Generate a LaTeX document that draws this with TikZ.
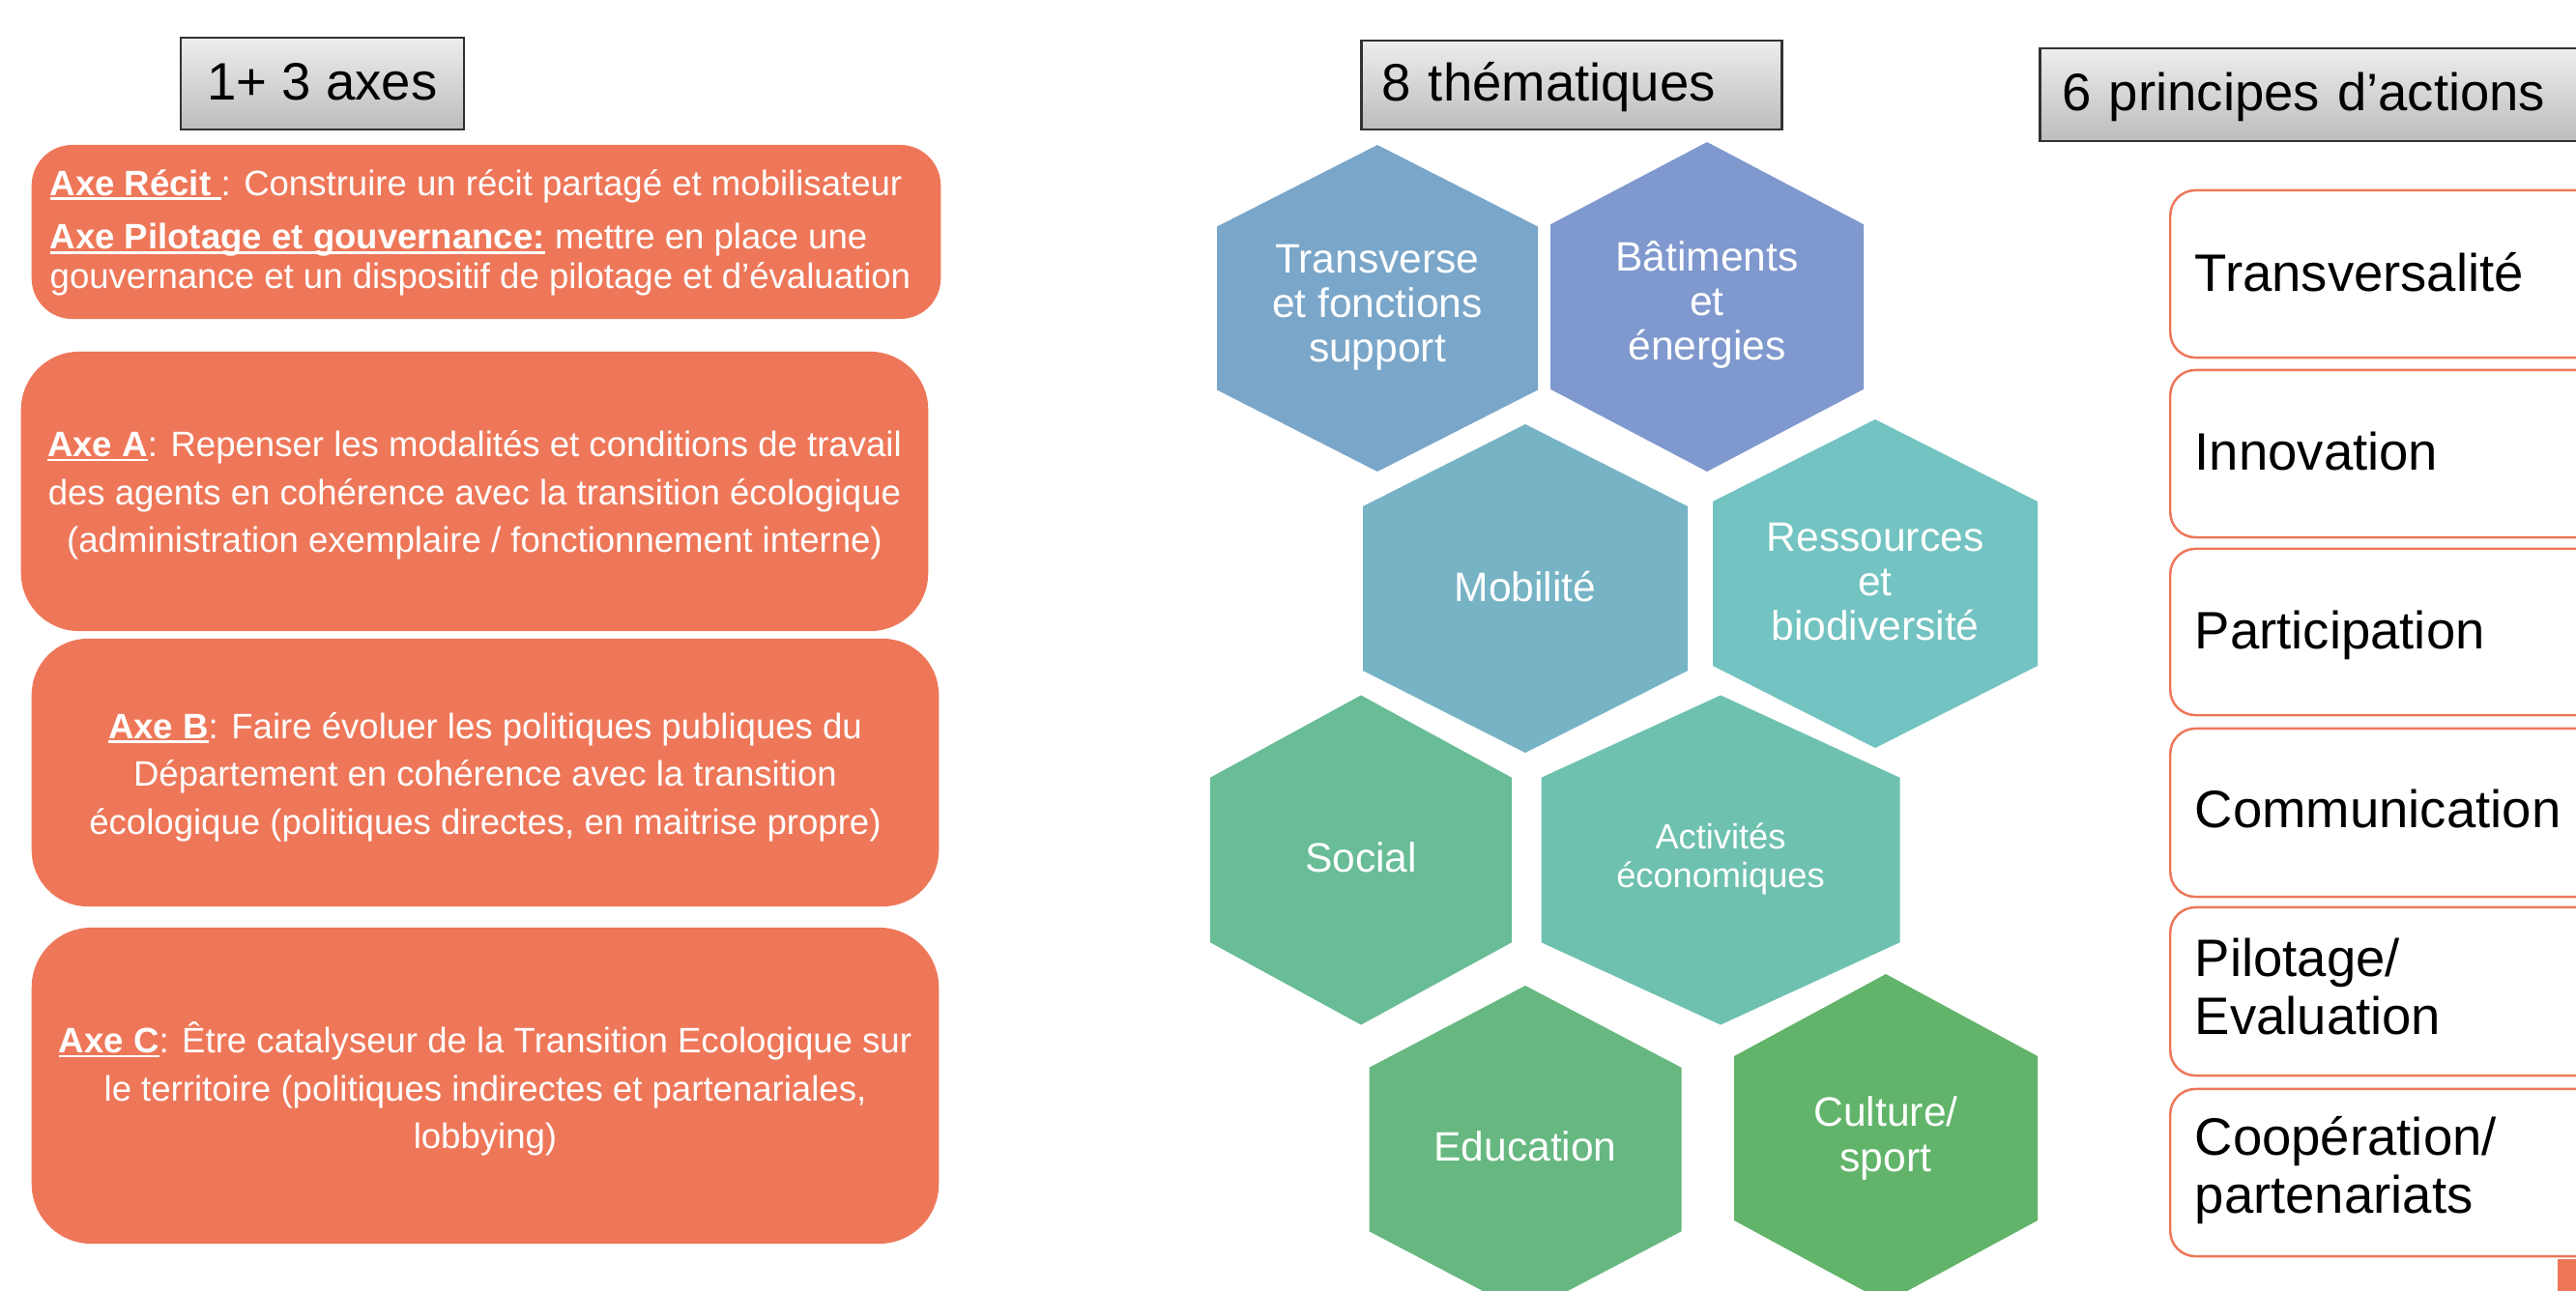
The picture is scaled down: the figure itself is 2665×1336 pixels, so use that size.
\documentclass[tikz,border=0pt]{standalone}
\usepackage{fontspec}
\setmainfont{Liberation Sans}
\definecolor{orng}{RGB}{238,119,89}
\definecolor{hexA}{RGB}{122,166,201}
\definecolor{hexB}{RGB}{127,152,206}
\definecolor{hexC}{RGB}{118,179,197}
\definecolor{hexD}{RGB}{114,195,193}
\definecolor{hexE}{RGB}{104,188,150}
\definecolor{hexF}{RGB}{110,193,175}
\definecolor{hexG}{RGB}{102,184,128}
\definecolor{hexH}{RGB}{97,180,106}
\definecolor{titleline}{RGB}{50,50,50}
\newcommand{\myhex}[5]{%
  \fill[#5] (#1,{#2-#4}) -- ({#1+#3},{#2-#4/2}) -- ({#1+#3},{#2+#4/2}) -- (#1,{#2+#4}) -- ({#1-#3},{#2+#4/2}) -- ({#1-#3},{#2-#4/2}) -- cycle;}
\newsavebox{\axbox}
\newcommand{\axehead}[1]{\sbox{\axbox}{\textbf{#1}}\rlap{\rule[-0.13em]{\wd\axbox}{0.07em}}\usebox{\axbox}}
\tikzset{
  axebox/.style={fill=orng, draw=none, rounded corners=#1, text=white,
    font=\fontsize{10.4}{14.1}\selectfont, align=center, inner sep=0pt},
  titlebox/.style={draw=titleline, line width=0.8pt, top color=black!7, bottom color=black!26,
    font=\fontsize{15.5}{17}\selectfont, text height=0.94em, text depth=0pt, inner ysep=0pt},
  princbox/.style={draw=orng, line width=0.7pt, fill=white, rounded corners=0.26cm,
    anchor=west, minimum width=4.6cm, inner sep=0pt},
  princtext/.style={anchor=base west, align=left, inner sep=0pt, font=\fontsize{15.5}{16.8}\selectfont},
  hextext/.style={text=white, align=center, font=\fontsize{12.1}{13.1}\selectfont, inner sep=0pt},
  hexsmall/.style={text=white, align=center, font=\fontsize{10.3}{11.4}\selectfont, inner sep=0pt}
}
\begin{document}
\begin{tikzpicture}[x=0.01cm,y=-0.01cm]
\useasboundingbox (0,0) rectangle (2665,1336);
\clip (0,0) rectangle (2665,1336);

% --- titles
\node[titlebox, minimum width=2.93cm, minimum height=0.95cm] (t1) at (333.5,86.5) {1+ 3 axes};
\node[titlebox, anchor=west, minimum width=4.35cm, text width=3.93cm, inner xsep=0.21cm, minimum height=0.92cm, align=left] (t2) at (1407,88) {8 thématiques};
\node[titlebox, anchor=west, minimum width=5.9cm, text width=5.44cm, inner xsep=0.23cm, minimum height=0.96cm, align=left] (t3) at (2109,98) {6 principes d’actions};

% --- left boxes
\node[axebox=0.42cm, minimum width=9.40cm, minimum height=1.80cm] (recit) at (503,240) {};
\node[text=white, anchor=base west, align=left, inner sep=0pt, font=\fontsize{10.4}{11.4}\selectfont] (recittext) at (51,298)
  {\axehead{Axe Récit\ }: Construire un récit partagé et mobilisateur\\[4.5pt]
   \axehead{Axe Pilotage et gouvernance:} mettre en place une\\
   gouvernance et un dispositif de pilotage et d’évaluation};
\node[axebox=0.6cm, minimum width=9.38cm, minimum height=2.89cm] (axeA) at (491,508.5) {};
\node[text=white, align=center, inner sep=0pt, font=\fontsize{10.4}{14.1}\selectfont] (axeAtext) at (491,512.5)
  {\axehead{Axe A}: Repenser les modalités et conditions de travail\\
   des agents en cohérence avec la transition écologique\\
   (administration exemplaire / fonctionnement interne)};
\node[axebox=0.58cm, minimum width=9.38cm, minimum height=2.77cm] (axeB) at (502,799.5) {};
\node[text=white, align=center, inner sep=0pt, font=\fontsize{10.4}{14.1}\selectfont] (axeBtext) at (502,804)
  {\axehead{Axe B}: Faire évoluer les politiques publiques du\\
   Département en cohérence avec la transition\\
   écologique (politiques directes, en maitrise propre)};
\node[axebox=0.62cm, minimum width=9.38cm, minimum height=3.27cm] (axeC) at (502,1123.5) {};
\node[text=white, align=center, inner sep=0pt, font=\fontsize{10.4}{14.1}\selectfont] (axeCtext) at (502,1127)
  {\axehead{Axe C}: Être catalyseur de la Transition Ecologique sur\\
   le territoire (politiques indirectes et partenariales,\\
   lobbying)};

% --- hexagons
\myhex{1425}{319}{166}{169}{hexA}
\myhex{1766}{317.5}{162}{170.5}{hexB}
\myhex{1578}{609}{168}{170}{hexC}
\myhex{1940}{604}{168}{170}{hexD}
\myhex{1408}{890}{156}{170.5}{hexE}
\myhex{1780}{890}{185.5}{170.5}{hexF}
\myhex{1578}{1189.5}{161.5}{169.5}{hexG}
\myhex{1951}{1178}{157}{170}{hexH}
\node[hextext] (h1) at (1425,318) {Transverse\\et fonctions\\support};
\node[hextext] (h2) at (1766,315) {Bâtiments\\et\\énergies};
\node[hextext] (h3) at (1578,607) {Mobilité};
\node[hextext] (h4) at (1940,602) {Ressources\\et\\biodiversité};
\node[hextext] (h5) at (1408,887) {Social};
\node[hexsmall] (h6) at (1780,889) {Activités\\économiques};
\node[hextext] (h7) at (1578,1186) {Education};
\node[hextext] (h8) at (1951,1178) {Culture/\\sport};

% --- principles
\node[princbox, minimum height=1.73cm] (p1) at (2244,283.5) {};
\node[princbox, minimum height=1.73cm] (p2) at (2244,469.5) {};
\node[princbox, minimum height=1.72cm] (p3) at (2244,654) {};
\node[princbox, minimum height=1.74cm] (p4) at (2244,841) {};
\node[princbox, minimum height=1.74cm] (p5) at (2244,1026) {};
\node[princbox, minimum height=1.73cm] (p6) at (2244,1213.5) {};
\node[princtext] (p1t) at (2270,301) {Transversalité};
\node[princtext] (p2t) at (2270,486) {Innovation};
\node[princtext] (p3t) at (2270,671) {Participation};
\node[princtext] (p4t) at (2270,856) {Communication};
\node[princtext] (p5t) at (2270,1070) {Pilotage/\\Evaluation};
\node[princtext] (p6t) at (2270,1255) {Coopération/\\partenariats};

\node[fill=orng, draw=none, inner sep=0pt, anchor=north west, minimum width=0.22cm, minimum height=0.40cm] (corner) at (2645,1302) {};
\end{tikzpicture}
\end{document}
